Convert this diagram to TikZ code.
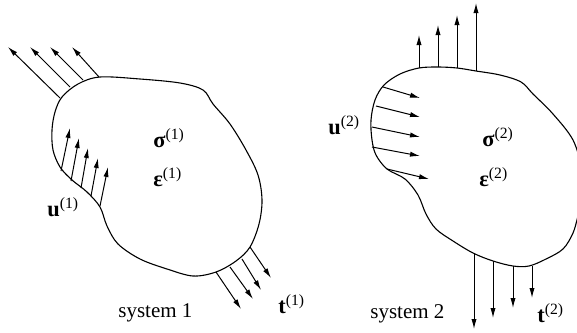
\documentclass[tikz,border=0pt]{standalone}
\usepackage{fontspec}
\setmainfont{Liberation Serif}
\usetikzlibrary{arrows.meta}

\begin{document}
\begin{tikzpicture}[
    x=0.5pt, y=-0.5pt,
    >={Latex[length=5pt,width=2.6pt]},
    font=\fontsize{10.5}{12}\selectfont,
    body/.style={
        draw=black,
        line width=0.55pt
    },
    arr/.style={->, line width=0.5pt},
    lbl/.style={anchor=base west, inner sep=0pt},
    sym/.style={lbl, font=\fontsize{11.2}{13}\selectfont}
]
\useasboundingbox (0,0) rectangle (577,332);

% system 1
\draw[body] plot[smooth cycle, tension=0.55] coordinates {
    (100,77) (140,79) (180,83) (203,90) (213,104) (230,124) (246,150)
    (258,175) (262,200) (259,224) (250,247) (236,261) (216,272) (193,276)
    (167,269) (140,259) (118,244) (107,226) (100,207) (87,192) (72,180)
    (60,167) (53,150) (52,130) (55,112) (62,97) (78,84)};

\foreach \sx/\sy/\ex/\ey in {60/98/8/47, 70/87/30/47, 83/80/50/47, 99/77/72/47}
    \draw[arr] (\sx,\sy) -- (\ex,\ey);
\foreach \sx/\sy/\ex/\ey in {61/171/70/128, 71/181/79/138, 81/188/88/148,
                             91/196/98/158, 100/206/108/167}
    \draw[arr] (\sx,\sy) -- (\ex,\ey);
\foreach \sx/\sy/\ex/\ey in {216/272/241/309, 230/267/253/299,
                             242/259/261/290, 250/247/271/278}
    \draw[arr] (\sx,\sy) -- (\ex,\ey);

\node[sym] (sig1) at (153,147) {\textbf{σ}\textsuperscript{(1)}};
\node[sym] (eps1) at (153,186) {\textbf{ε}\textsuperscript{(1)}};
\node[sym] (u1) at (47,216) {\textbf{u}\textsuperscript{(1)}};
\node[sym] (t1) at (278,313) {\textbf{t}\textsuperscript{(1)}};
\node[lbl] (sys1) at (118,317) {system 1};

% system 2
\draw[body] plot[smooth cycle, tension=0.55] coordinates {
    (400,74) (419,68) (438,67) (457,68) (476,71) (500,75) (521,82)
    (533,94) (553,114) (573,140) (582,170) (584,195) (578,216) (573,233)
    (563,249) (546,259) (529,266) (513,266) (493,261) (473,253) (453,241)
    (436,229) (426,214) (418,195) (405,179) (387,169) (376,155) (372,140)
    (371,120) (375,100) (384,85)};

\foreach \x/\sy/\ey in {419/68/35, 438/67/25, 457/68/15, 476/71/3}
    \draw[arr] (\x,\sy) -- (\x,\ey);
\foreach \sx/\sy/\ex/\ey in {383/87/420/98, 376/106/420/117, 372/127/420/137,
                             372/147/420/156, 387/169/429/179}
    \draw[arr] (\sx,\sy) -- (\ex,\ey);
\foreach \x/\sy/\ey in {474/253/329, 493/261/318, 513/266/308, 532/266/298}
    \draw[arr] (\x,\sy) -- (\x,\ey);

\node[sym] (sig2) at (482,146) {\textbf{σ}\textsuperscript{(2)}};
\node[sym] (eps2) at (479,186) {\textbf{ε}\textsuperscript{(2)}};
\node[sym] (u2) at (328,134) {\textbf{u}\textsuperscript{(2)}};
\node[sym] (t2) at (537,322) {\textbf{t}\textsuperscript{(2)}};
\node[lbl] (sys2) at (370,318) {system 2};

\end{tikzpicture}
\end{document}
